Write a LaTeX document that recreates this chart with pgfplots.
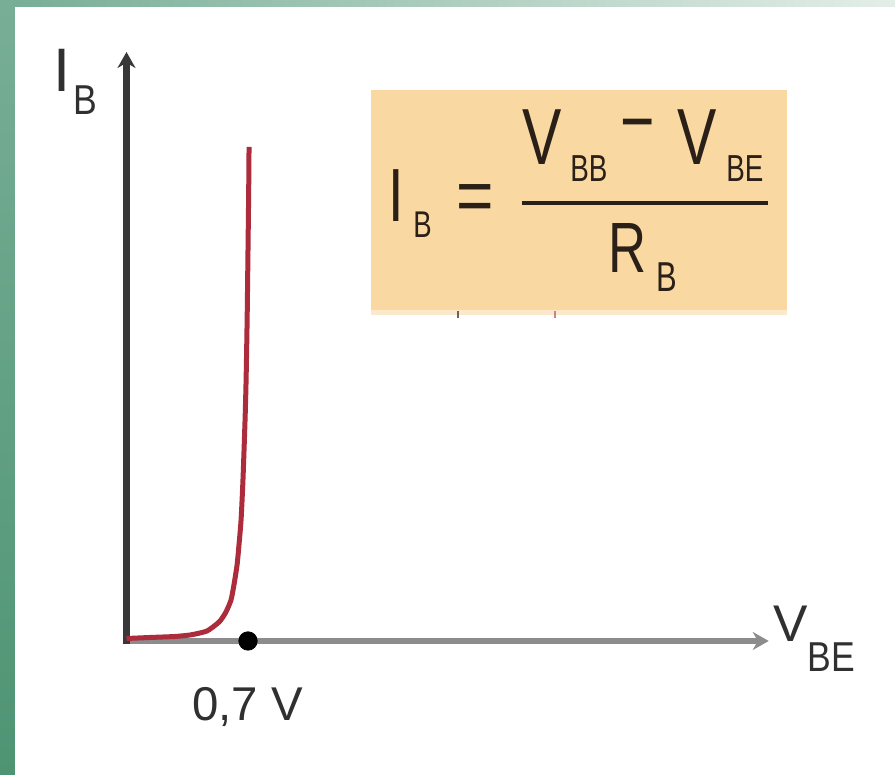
\documentclass[border=0pt]{standalone}
\usepackage{pgfplots}
\pgfplotsset{compat=1.18}
\usepackage{fontspec}
\setmainfont{Liberation Sans}
\newfontfamily\narrowfont[FakeStretch=0.74]{Liberation Sans}
\newfontfamily\labelfont[FakeStretch=0.85]{Liberation Sans}
\usetikzlibrary{arrows.meta}

\definecolor{greendark}{HTML}{4E9473}
\definecolor{greenmid}{HTML}{78AE96}
\definecolor{greenlight}{HTML}{E4EEE9}
\definecolor{axisdark}{HTML}{383838}
\definecolor{axisgray}{HTML}{8C8C8C}
\definecolor{curvered}{HTML}{AC2C3C}
\definecolor{peach}{HTML}{F9D8A2}
\definecolor{peachlight}{HTML}{FCE9CB}
\definecolor{inkdark}{HTML}{2A2018}
\definecolor{labelgray}{HTML}{303030}

\newcommand{\fs}[1]{\fontsize{#1}{#1}\selectfont}

\begin{document}
\begin{tikzpicture}
% slide frame (1 unit = 0.5pt)
\begin{scope}[x=0.5pt,y=-0.5pt,yshift=387.5pt]
  \shade[top color=greenmid, bottom color=greendark] (0,0) rectangle (15,775);
  \shade[left color=greenmid, right color=greenlight] (15,0) rectangle (895,7);
  \fill[white] (15,7) rectangle (895,775);
\end{scope}

\begin{axis}[
  at={(0,0)}, anchor=south west,
  scale only axis, width=447.5pt, height=387.5pt,
  axis lines=none, clip=false,
  xmin=-0.7288, xmax=4.4276,
  ymin=-13.4, ymax=64.1,
]
  % axes with arrow heads
  \draw[line width=3.4pt, axisgray, -{Stealth[length=8pt,width=9pt]}]
    (axis cs:0,0) -- (axis cs:3.70,0);
  \draw[line width=3.2pt, axisdark, -{Stealth[length=8pt,width=9pt]}]
    (axis cs:0,-0.35) -- (axis cs:0,58.9);

  % input characteristic I_B(V_BE)
  \addplot[curvered, line width=2.5pt, smooth, tension=0.4] coordinates {
    (0.000,0.25) (0.135,0.35) (0.279,0.45) (0.366,0.6) (0.423,0.8)
    (0.464,1.0) (0.498,1.4) (0.539,2.0) (0.573,2.9) (0.602,4.1)
    (0.619,5.6) (0.637,7.6) (0.648,9.6) (0.660,12.1) (0.671,16.1)
    (0.683,22.1) (0.689,26.1) (0.695,32.1) (0.700,39.1) (0.704,45.1)
    (0.706,49.4)
  };

  % threshold voltage
  \addplot[only marks, mark=*, mark size=4.6pt, black] coordinates {(0.7,0)};
\end{axis}

% labels and formula box
\begin{scope}[x=0.5pt,y=-0.5pt,yshift=387.5pt]
  \node[anchor=base west, inner sep=0, labelgray, font=\fs{30.7}] at (53,92) {I};
  \node[anchor=base west, inner sep=0, labelgray, font=\labelfont\fs{20.9}] at (73,115) {B};

  \node[anchor=base west, inner sep=0, labelgray, font=\fs{25.8}] at (773,642) {V};
  \node[anchor=base west, inner sep=0, labelgray, font=\labelfont\fs{20.9}] at (807,672) {BE};

  \node[anchor=base west, inner sep=0, labelgray, font=\fs{23.7}] at (192,721) {0,7 V};

  \fill[peach] (371,90) rectangle (787,310);
  \fill[peachlight] (371,310) rectangle (787,315);
  \draw[inkdark!70, line width=1pt] (458,311) -- (458,318);
  \draw[curvered!60, line width=1pt] (555,311) -- (555,318);

  \begin{scope}[inkdark]
    \node[anchor=base west, inner sep=0, font=\narrowfont\fs{37.7}] at (388,222) {I};
    \node[anchor=base west, inner sep=0, font=\narrowfont\fs{18.6}] at (413,238) {B};
    \node[anchor=base west, inner sep=0, font=\labelfont\fs{37.7}] at (456,222) {=};
    \node[anchor=base west, inner sep=0, font=\narrowfont\fs{39.8}] at (522,165) {V};
    \node[anchor=base west, inner sep=0, font=\narrowfont\fs{18.8}] at (570,182) {BB};
    \node[anchor=base west, inner sep=0, font=\narrowfont\fs{39.8}] at (620,149) {−};
    \node[anchor=base west, inner sep=0, font=\narrowfont\fs{39.8}] at (677,165) {V};
    \node[anchor=base west, inner sep=0, font=\narrowfont\fs{18.8}] at (726,182) {BE};
    \draw[line width=1.6pt] (522,203) -- (768,203);
    \node[anchor=base west, inner sep=0, font=\narrowfont\fs{35.6}] at (608,273) {R};
    \node[anchor=base west, inner sep=0, font=\narrowfont\fs{20.9}] at (656,292) {B};
  \end{scope}
\end{scope}
\end{tikzpicture}
\end{document}
